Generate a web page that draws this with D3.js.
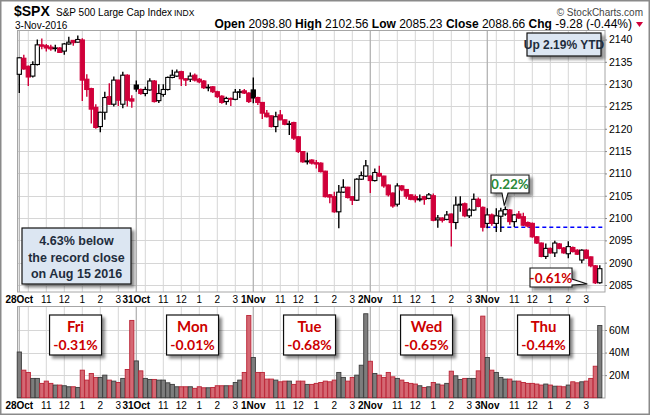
<!DOCTYPE html>
<html>
<head>
<meta charset="utf-8">
<script src="https://cdn.jsdelivr.net/npm/d3@7"></script>
<style>
  body { margin: 0; background: #fff; }
  svg { display: block; font-family: "Liberation Sans", Arial, sans-serif; }
</style>
</head>
<body>
<svg id="chart" width="650" height="415"></svg>
<script>
// 15 minute bars, 26 per session, 5 sessions
const days = ['28Oct', '31Oct', '1Nov', '2Nov', '3Nov']
const dayNames = ['Fri', 'Mon', 'Tue', 'Wed', 'Thu']
const dayChange = ['-0.31%', '-0.01%', '-0.68%', '-0.65%', '-0.44%']
const hourSlots = [2, 6, 10, 14, 18, 22]
const hourLabels = ['', '11', '12', '1', '2', '3']
const priceTicks = [2085, 2090, 2095, 2100, 2105, 2110, 2115, 2120, 2125, 2130, 2135, 2140]
const volTicks = [20, 40, 60]
const volTickLabels = ['20M', '40M', '60M']

const open = [
  2132.2, 2135.8, 2134.0, 2131.8, 2134.4, 2138.8, 2138.6, 2138.3, 2138.0, 2138.1, 2137.4, 2139.0, 2139.8, 2139.4, 2139.9, 2131.1, 2129.0, 2124.8, 2120.5, 2123.7, 2127.2, 2125.5, 2130.9, 2125.5, 2132.0, 2126.7,
  2129.8, 2128.8, 2127.9, 2128.7, 2130.7, 2126.3, 2127.7, 2128.8, 2131.5, 2131.8, 2132.8, 2131.2, 2131.1, 2132.0, 2131.1, 2130.7, 2129.2, 2129.4, 2128.3, 2127.3, 2126.1, 2126.8, 2126.6, 2128.2, 2128.5, 2128.0,
  2128.7, 2127.0, 2125.9, 2123.5, 2122.9, 2120.5, 2123.1, 2122.0, 2121.0, 2121.4, 2118.2, 2114.9, 2112.6, 2113.0, 2112.4, 2112.3, 2110.5, 2105.2, 2104.8, 2101.4, 2105.8, 2106.9, 2104.8, 2104.0, 2108.7, 2109.4,
  2109.4, 2108.4, 2110.0, 2109.4, 2107.4, 2105.6, 2103.1, 2107.2, 2106.4, 2105.2, 2104.8, 2104.1, 2104.8, 2104.4, 2105.0, 2099.6, 2100.0, 2099.7, 2100.9, 2099.0, 2102.9, 2103.2, 2100.5, 2101.8, 2104.2, 2102.4,
  2098.8, 2100.7, 2098.8, 2100.4, 2100.9, 2101.8, 2099.2, 2100.9, 2100.3, 2099.0, 2098.8, 2095.8, 2094.4, 2091.4, 2093.2, 2092.2, 2094.2, 2093.3, 2092.0, 2093.4, 2092.8, 2090.6, 2092.8, 2091.3, 2089.3, 2085.5
]
const high = [
  2136.0, 2136.6, 2134.2, 2135.1, 2140.0, 2140.2, 2139.0, 2138.8, 2138.8, 2138.3, 2139.2, 2140.6, 2139.9, 2140.9, 2140.3, 2132.2, 2129.2, 2125.5, 2123.8, 2128.3, 2130.2, 2131.7, 2131.0, 2132.8, 2132.2, 2127.5,
  2130.8, 2129.0, 2129.4, 2131.3, 2130.9, 2130.0, 2130.0, 2131.7, 2133.2, 2133.3, 2133.0, 2131.3, 2132.6, 2132.4, 2131.4, 2130.9, 2130.0, 2129.6, 2128.5, 2127.5, 2127.2, 2127.0, 2128.9, 2128.9, 2128.9, 2128.2,
  2131.5, 2127.2, 2126.0, 2124.2, 2123.0, 2123.8, 2124.2, 2122.1, 2121.8, 2121.6, 2118.4, 2115.0, 2114.7, 2113.2, 2113.0, 2112.5, 2110.6, 2105.4, 2105.9, 2107.4, 2108.7, 2107.0, 2104.9, 2108.9, 2110.4, 2113.0,
  2109.6, 2111.1, 2111.7, 2109.5, 2107.5, 2105.7, 2107.8, 2107.4, 2106.5, 2105.3, 2105.3, 2105.3, 2105.0, 2105.6, 2105.5, 2100.7, 2100.2, 2101.6, 2101.0, 2104.8, 2104.9, 2103.5, 2102.2, 2105.5, 2104.6, 2102.6,
  2102.2, 2101.0, 2102.2, 2102.3, 2102.56, 2102.0, 2100.9, 2101.6, 2101.2, 2099.2, 2099.0, 2096.0, 2094.5, 2094.3, 2093.4, 2094.9, 2094.4, 2093.5, 2094.8, 2093.6, 2093.0, 2093.0, 2093.0, 2091.4, 2089.5, 2089.4
]
const low = [
  2128.0, 2133.2, 2129.6, 2131.5, 2134.2, 2137.8, 2137.3, 2137.5, 2137.3, 2137.0, 2136.6, 2138.8, 2138.6, 2139.3, 2126.2, 2127.2, 2121.2, 2120.0, 2119.2, 2122.0, 2125.3, 2125.0, 2125.1, 2124.6, 2125.0, 2124.7,
  2128.3, 2127.6, 2127.3, 2128.5, 2125.9, 2125.8, 2127.2, 2128.6, 2131.3, 2131.6, 2129.6, 2129.6, 2130.5, 2130.6, 2130.2, 2128.9, 2128.4, 2128.0, 2126.9, 2125.6, 2125.4, 2125.1, 2126.4, 2126.9, 2127.8, 2125.8,
  2125.7, 2125.3, 2122.2, 2122.5, 2120.3, 2119.2, 2121.9, 2120.8, 2118.6, 2117.5, 2114.6, 2112.4, 2112.0, 2112.0, 2111.1, 2110.2, 2104.6, 2103.3, 2101.2, 2097.7, 2105.6, 2104.4, 2102.9, 2103.8, 2108.5, 2109.2,
  2105.6, 2108.2, 2109.2, 2106.8, 2104.8, 2102.3, 2102.6, 2106.0, 2104.3, 2104.0, 2103.5, 2103.7, 2103.0, 2104.2, 2099.3, 2097.8, 2099.0, 2099.5, 2093.6, 2097.5, 2101.4, 2100.2, 2100.0, 2101.6, 2102.4, 2097.0,
  2097.7, 2098.3, 2096.9, 2096.9, 2100.5, 2098.5, 2098.0, 2099.8, 2098.2, 2097.9, 2095.6, 2094.2, 2091.2, 2090.8, 2092.0, 2091.3, 2093.0, 2092.0, 2091.0, 2092.3, 2091.7, 2089.9, 2090.8, 2089.0, 2085.23, 2085.3
]
const close = [
  2135.9, 2133.4, 2131.6, 2134.4, 2138.8, 2138.5, 2138.1, 2137.9, 2138.1, 2137.1, 2139.0, 2139.4, 2139.3, 2140.0, 2130.9, 2128.8, 2124.4, 2120.3, 2123.7, 2127.0, 2125.5, 2130.9, 2126.4, 2132.0, 2126.4, 2126.2,
  2128.9, 2127.9, 2128.8, 2130.7, 2126.1, 2127.9, 2128.8, 2131.5, 2132.0, 2132.7, 2131.2, 2130.9, 2131.8, 2130.9, 2130.5, 2129.2, 2129.3, 2128.3, 2127.2, 2125.9, 2126.8, 2126.6, 2128.2, 2128.3, 2128.0, 2126.1,
  2126.9, 2125.9, 2123.5, 2122.7, 2120.5, 2122.7, 2122.0, 2121.0, 2121.1, 2117.9, 2114.9, 2112.6, 2112.8, 2112.3, 2112.1, 2110.4, 2104.8, 2104.7, 2101.4, 2105.8, 2106.9, 2104.6, 2104.0, 2108.7, 2109.5, 2111.7,
  2108.4, 2110.2, 2109.4, 2107.2, 2105.2, 2102.7, 2107.2, 2106.3, 2104.9, 2104.2, 2104.1, 2104.3, 2104.2, 2105.2, 2099.5, 2100.0, 2099.5, 2100.7, 2099.0, 2102.9, 2103.1, 2100.5, 2101.8, 2104.2, 2102.6, 2097.94,
  2100.7, 2098.8, 2100.5, 2101.6, 2101.9, 2099.2, 2100.7, 2100.0, 2098.4, 2098.2, 2095.8, 2094.4, 2091.4, 2093.2, 2092.2, 2094.4, 2093.2, 2092.2, 2093.6, 2092.5, 2091.9, 2092.8, 2091.0, 2089.3, 2085.5, 2088.66
]
// volume in millions
const volume = [
  40.5, 24.4, 22.4, 17.1, 17.1, 12.7, 14.7, 12.7, 11.2, 11.2, 10.6, 9.7, 9.7, 9.1, 24.4, 15.6, 21.5, 18.0, 18.0, 20.0, 15.6, 14.7, 13.5, 17.1, 25.0, 68.5,
  32.6, 23.8, 17.1, 16.2, 16.2, 15.6, 15.6, 13.2, 11.8, 9.7, 9.7, 9.7, 9.7, 8.3, 9.7, 8.8, 8.8, 9.1, 10.6, 10.6, 10.6, 10.6, 13.5, 15.6, 22.4, 72.9,
  35.6, 22.4, 22.4, 16.5, 16.5, 15.6, 14.1, 14.7, 14.7, 11.8, 14.7, 14.7, 11.8, 11.8, 12.7, 13.5, 14.7, 14.1, 15.6, 22.4, 18.0, 14.7, 18.0, 20.0, 28.8, 74.4,
  32.3, 21.5, 20.0, 18.0, 22.4, 18.5, 17.1, 15.6, 13.5, 12.7, 12.1, 10.6, 9.1, 9.7, 13.5, 12.1, 11.2, 12.7, 23.5, 19.4, 16.2, 17.1, 17.1, 17.1, 23.8, 72.3,
  35.6, 24.4, 22.4, 18.0, 16.5, 16.5, 14.7, 14.7, 13.5, 12.7, 12.7, 12.1, 11.2, 12.1, 11.2, 10.2, 10.2, 9.7, 11.2, 14.1, 13.2, 14.1, 14.7, 17.1, 27.9, 64.0
]

const slotsPerDay = 26
const red = '#d0003a'

const W = 650, H = 415
const pane = { left: 17.5, right: 605, top: 30.5, bottom: 292 }
const vpane = { top: 306.5, bottom: 398 }

const svg = d3.select('#chart')

const x = d3.scaleLinear().domain([0, open.length - 1]).range([19.3, 599.8])
const y = d3.scaleLinear().domain([2085, 2140]).range([285, 39.5])
const yv = d3.scaleLinear().domain([0, 60]).range([397.7, 330])

const defs = svg.append('defs')
const f = defs.append('filter').attr('id', 'shadow').attr('x', '-20%').attr('y', '-20%').attr('width', '150%').attr('height', '160%')
f.append('feDropShadow').attr('dx', 3).attr('dy', 3).attr('stdDeviation', 1.6)
  .attr('flood-color', '#000').attr('flood-opacity', 0.45)

// outer frame
svg.append('rect').attr('x', 0.75).attr('y', 0.75).attr('width', W - 1.5).attr('height', H - 1.5)
  .attr('fill', '#fff').attr('stroke', '#8a8a8a').attr('stroke-width', 1.5)

// ---------- header
const head = svg.append('g')
head.append('text').attr('x', 14).attr('y', 16).attr('font-size', 14).attr('font-weight', 'bold').text('$SPX')
head.append('text').attr('x', 56).attr('y', 16).attr('font-size', 10).text('S&P 500 Large Cap Index')
head.append('text').attr('x', 174).attr('y', 16).attr('font-size', 8.5).text('INDX')
head.append('text').attr('x', 643).attr('y', 15.5).attr('font-size', 10).attr('fill', '#444')
  .attr('text-anchor', 'end').text('\u00a9 StockCharts.com')
head.append('text').attr('x', 15).attr('y', 28.5).attr('font-size', 10).text('3-Nov-2016')

const stats = [['Open', '2098.80'], ['High', '2102.56'], ['Low', '2085.23'], ['Close', '2088.66'], ['Chg', '-9.28 (-0.44%)']]
const st = head.append('text').attr('x', 632).attr('y', 28).attr('font-size', 12).attr('text-anchor', 'end')
stats.forEach((s, i) => {
  st.append('tspan').attr('font-weight', 'bold').text((i ? '  ' : '') + s[0])
  st.append('tspan').text(' ' + s[1])
})
head.append('path').attr('d', 'M636,22 L643,22 L639.5,27 Z').attr('fill', red)

// ---------- grids
function drawGrid(top, bottom, hLines, yScale) {
  const g = svg.append('g')
  g.append('rect').attr('x', pane.left).attr('y', top).attr('width', pane.right - pane.left)
    .attr('height', bottom - top).attr('fill', '#fff')
  g.selectAll('.h').data(hLines).enter().append('line')
    .attr('x1', pane.left).attr('x2', pane.right)
    .attr('y1', d => Math.round(yScale(d)) + 0.5).attr('y2', d => Math.round(yScale(d)) + 0.5)
    .attr('stroke', '#d6d6d6')
  days.forEach((d, di) => {
    hourSlots.forEach(s => {
      const xx = x(di * slotsPerDay + s)
      g.append('line').attr('x1', xx).attr('x2', xx).attr('y1', top).attr('y2', bottom).attr('stroke', '#d6d6d6')
    })
    const xd = x(di * slotsPerDay)
    g.append('line').attr('x1', xd).attr('x2', xd).attr('y1', top).attr('y2', bottom)
      .attr('stroke', '#b4b4b4').attr('stroke-width', 1.3)
  })
  g.append('rect').attr('x', pane.left).attr('y', top).attr('width', pane.right - pane.left)
    .attr('height', bottom - top).attr('fill', 'none').attr('stroke', '#a6a6a6')
  return g
}
drawGrid(pane.top, pane.bottom, priceTicks, y)
drawGrid(vpane.top, vpane.bottom, volTicks, yv)

// ---------- text boxes
function box(xx, yy, w, h, fill) {
  svg.append('rect').attr('x', xx).attr('y', yy).attr('width', w).attr('height', h)
    .attr('fill', fill).attr('stroke', '#111').attr('stroke-width', 1.2).attr('filter', 'url(#shadow)')
}

box(527, 33, 74, 23, '#dce6f2')
svg.append('text').attr('x', 564).attr('y', 49).attr('text-anchor', 'middle')
  .attr('font-size', 12).attr('font-weight', 'bold').attr('fill', '#1f2d3d').text('Up 2.19% YTD')

box(22, 228, 109, 56, '#dce6f2')
const note = ['4.63% below', 'the record close', 'on Aug 15 2016']
svg.selectAll('.note').data(note).enter().append('text')
  .attr('x', 76.5).attr('y', (d, i) => 245 + i * 16.5).attr('text-anchor', 'middle')
  .attr('font-size', 12.5).attr('font-weight', 'bold').attr('fill', '#1f2d3d').text(d => d)

// ---------- blue previous close line
const prevClose = close[4 * slotsPerDay - 1]
svg.append('line').attr('x1', x(4 * slotsPerDay) - 1).attr('x2', pane.right)
  .attr('y1', y(prevClose)).attr('y2', y(prevClose))
  .attr('stroke', '#0000ff').attr('stroke-width', 1.4).attr('stroke-dasharray', '4,3')

// ---------- candles
const bars = d3.range(open.length).map(i => {
  const prev = i ? close[i - 1] : open[i]
  return {
    i, o: open[i], h: high[i], l: low[i], c: close[i], v: volume[i],
    down: close[i] < prev,
    filled: close[i] < open[i]
  }
})

const candles = svg.append('g').selectAll('g').data(bars).enter().append('g')
candles.append('line')
  .attr('x1', d => x(d.i)).attr('x2', d => x(d.i))
  .attr('y1', d => y(d.h)).attr('y2', d => y(d.l))
  .attr('stroke', d => d.down ? red : '#000').attr('stroke-width', 1.4)
candles.append('rect')
  .attr('x', d => x(d.i) - 2.1).attr('width', 4.2)
  .attr('y', d => y(Math.max(d.o, d.c)))
  .attr('height', d => Math.max(0.6, Math.abs(y(d.o) - y(d.c))))
  .attr('fill', d => d.filled ? (d.down ? red : '#000') : '#fff')
  .attr('stroke', d => d.down ? red : '#000').attr('stroke-width', 1.1)

// ---------- volume
svg.append('g').selectAll('rect').data(bars).enter().append('rect')
  .attr('x', d => x(d.i) - 2.1).attr('width', 4.2)
  .attr('y', d => yv(d.v)).attr('height', d => yv(0) - yv(d.v))
  .attr('fill', d => d.down ? '#d46873' : '#7d7d7d')
  .attr('stroke', d => d.down ? '#bb2335' : '#3c3c3c').attr('stroke-width', 0.9)

// ---------- callouts
function callout(pts, tx, ty, label, color) {
  const p = 'M' + pts.map(q => q.join(',')).join('L') + 'Z'
  svg.append('path').attr('d', p).attr('fill', '#fff').attr('stroke', '#111')
    .attr('stroke-width', 1.1).attr('filter', 'url(#shadow)')
  svg.append('text').attr('x', tx).attr('y', ty).attr('text-anchor', 'middle')
    .attr('font-family', 'Lato, "Open Sans", sans-serif').attr('font-size', 13.5).attr('font-weight', 'bold')
    .attr('fill', color).text(label)
}
const hiBar = 108, loBar = 128
callout([[491, 175], [529, 175], [529, 193], [508, 193], [x(hiBar) - 1, y(high[hiBar]) - 1], [502, 193], [491, 193]],
  510, 189, '0.22%', '#2a8a3a')
callout([[530, 268], [572, 268], [572, 279], [x(loBar) - 8, y(low[loBar])], [572, 285], [572, 287], [530, 287]],
  551, 282.5, '-0.61%', '#cc0000')

// ---------- day change boxes
dayNames.forEach((n, di) => {
  const cx = x(di * slotsPerDay + 12.5)
  box(cx - 26, 315, 52, 40, '#fff')
  svg.append('text').attr('x', cx).attr('y', 332).attr('text-anchor', 'middle').attr('font-weight', 'bold')
    .attr('font-family', 'Lato, "Open Sans", sans-serif').attr('font-size', 15).attr('fill', '#cc0000').text(n)
  svg.append('text').attr('x', cx).attr('y', 350).attr('text-anchor', 'middle').attr('font-weight', 'bold')
    .attr('font-family', 'Lato, "Open Sans", sans-serif').attr('font-size', 14).attr('fill', '#cc0000').text(dayChange[di])
})

// ---------- axes
const ticks = []
days.forEach((d, di) => {
  ticks.push({ pos: di * slotsPerDay, label: d, bold: true })
  hourSlots.forEach((s, k) => { if (hourLabels[k]) ticks.push({ pos: di * slotsPerDay + s, label: hourLabels[k], bold: false }) })
})
;[303, 409].forEach(yy => {
  svg.append('g').selectAll('text').data(ticks).enter().append('text')
    .attr('x', d => x(d.pos)).attr('y', yy).attr('text-anchor', 'middle')
    .attr('font-size', 10).attr('font-weight', d => d.bold ? 'bold' : 'normal')
    .text(d => d.label)
})

const yAxis = svg.append('g').attr('transform', `translate(${pane.right},0)`)
  .call(d3.axisRight(y).tickValues(priceTicks).tickSize(2).tickPadding(2).tickFormat(d3.format('d')))
yAxis.select('.domain').remove()
yAxis.selectAll('text').attr('font-size', 10.5).attr('font-family', '"Liberation Sans", Arial, sans-serif').attr('fill', '#000')
yAxis.selectAll('line').attr('stroke', '#888')

const vAxis = svg.append('g').attr('transform', `translate(${pane.right},0)`)
  .call(d3.axisRight(yv).tickValues(volTicks).tickSize(2).tickPadding(2).tickFormat((d, i) => volTickLabels[i]))
vAxis.select('.domain').remove()
vAxis.selectAll('text').attr('font-size', 10.5).attr('font-family', '"Liberation Sans", Arial, sans-serif').attr('fill', '#000')
vAxis.selectAll('line').attr('stroke', '#888')
</script>
</body>
</html>
